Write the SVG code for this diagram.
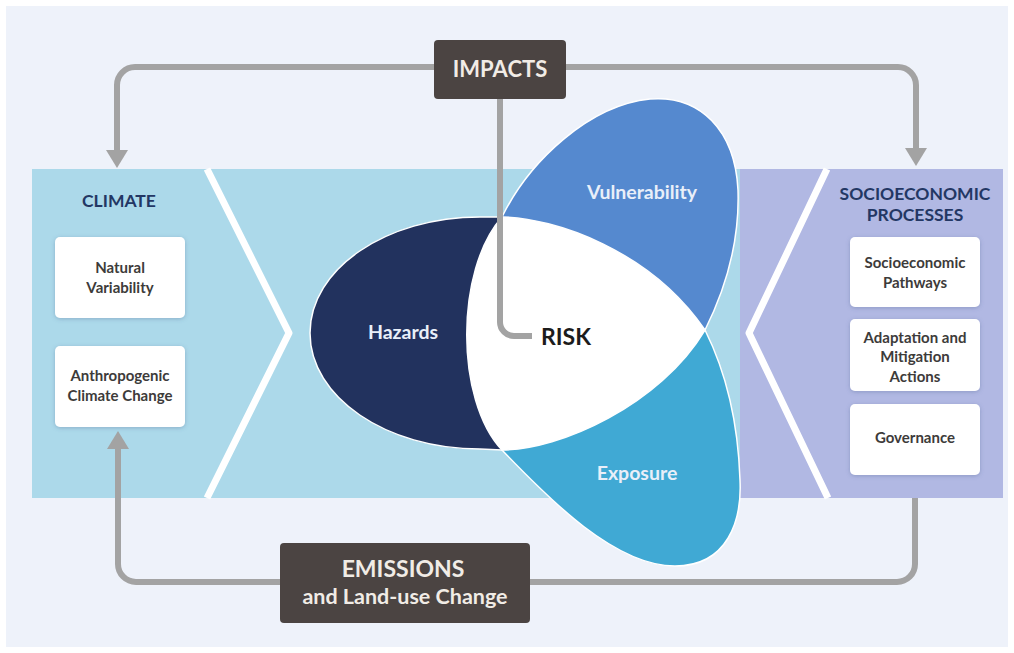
<svg xmlns="http://www.w3.org/2000/svg" width="1014" height="653" viewBox="0 0 1014 653">
<style>
.t{font-family:Lato,"Open Sans","Liberation Sans",sans-serif;font-weight:700;text-anchor:middle}
.box{fill:#ffffff;filter:url(#sh)}
.boxtxt{font-size:15px;fill:#3d3b3a}
.head{font-size:17.5px;fill:#233764}
.dark{fill:#4b4442}
.darktxt{fill:#f1ece6}
.petaltxt{font-size:19.5px;fill:#e9eff9}
.conn{fill:none;stroke:#a3a3a3;stroke-width:6}
.chev{fill:none;stroke:#ffffff;stroke-width:7;stroke-linejoin:round}
.petal{stroke:#ffffff;stroke-width:1.5}
</style>
<defs>
<filter id="sh" x="-20%" y="-20%" width="140%" height="140%">
<feDropShadow dx="0" dy="1" stdDeviation="2" flood-color="#4a5f8a" flood-opacity="0.35"/>
</filter>
<marker id="arr" markerUnits="userSpaceOnUse" markerWidth="18" markerHeight="22" refX="0" refY="11" orient="auto" viewBox="0 0 18 22">
<path d="M0,0 L18,11 L0,22 Z" fill="#a3a3a3"/>
</marker>
</defs>
<rect x="0" y="0" width="1014" height="653" fill="#ffffff"/>
<rect x="6" y="6" width="1002" height="641" fill="#eef2fa"/>
<g id="bands">
<rect x="32" y="169" width="708" height="329" fill="#acd9ea"/>
<rect x="740" y="169" width="263" height="329" fill="#b1b8e3"/>
<polyline class="chev" points="207,169 289,333 207,498"/>
<polyline class="chev" points="827,169 749,333 828,498"/>
</g>
<g id="hazards">
<path class="petal" fill="#22325e" d="M502,217 L480,217 C386,217 310,269 310,333 C310,397 386,449 480,449 L502,450 Z"/>
<text class="t petaltxt" x="403" y="339">Hazards</text>
</g>
<g id="vulnerability">
<path class="petal" fill="#5589cf" d="M502,217 C530,160 590,105 650,99 C700,95 735,130 738,190 C740,250 720,300 705,330 Z"/>
<text class="t petaltxt" x="642" y="199">Vulnerability</text>
</g>
<g id="exposure">
<path class="petal" fill="#40a9d4" d="M502,450 C550,500 615,566 675,566 C728,566 742,520 740,480 C738,420 725,370 705,330 Z"/>
<text class="t petaltxt" x="637" y="480">Exposure</text>
</g>
<g id="risk">
<path class="petal" fill="#ffffff" d="M502,217 C555,218 650,250 705,330 C660,405 560,450 502,450 C455,400 455,270 502,217 Z"/>
</g>
<g id="connectors">
<path class="conn" d="M434,67 H135 A18 18 0 0 0 117,85 V150" marker-end="url(#arr)"/>
<path class="conn" d="M566,67 H898 A18 18 0 0 1 916,85 V148" marker-end="url(#arr)"/>
<path class="conn" d="M280,582 H136 A18 18 0 0 1 118,564 V449" marker-end="url(#arr)"/>
<path class="conn" d="M530,582 H897 A18 18 0 0 0 915,564 V498"/>
<path class="conn" d="M500,99 V322 A14 14 0 0 0 514,336 H532"/>
</g>
<g id="risk-label">
<text class="t" x="566" y="345" font-size="23" fill="#1c1c1c">RISK</text>
</g>
<g id="impacts">
<rect class="dark" x="434" y="40" width="132" height="59" rx="4"/>
<text class="t darktxt" x="500" y="77" font-size="22">IMPACTS</text>
</g>
<g id="emissions">
<rect class="dark" x="280" y="543" width="250" height="80" rx="4"/>
<text class="t darktxt" x="403" y="577" font-size="23">EMISSIONS</text>
<text class="t darktxt" x="405" y="604" font-size="21.5">and Land-use Change</text>
</g>
<g id="climate">
<text class="t head" x="119" y="207">CLIMATE</text>
</g>
<g id="natural-variability">
<rect class="box" x="55" y="237" width="130" height="81" rx="5"/>
<text class="t boxtxt" x="120" y="273">Natural</text>
<text class="t boxtxt" x="120" y="293">Variability</text>
</g>
<g id="anthropogenic">
<rect class="box" x="55" y="346" width="130" height="81" rx="5"/>
<text class="t boxtxt" x="120" y="381">Anthropogenic</text>
<text class="t boxtxt" x="120" y="401">Climate Change</text>
</g>
<g id="socioeconomic-processes">
<text class="t head" x="915" y="200">SOCIOECONOMIC</text>
<text class="t head" x="915" y="221">PROCESSES</text>
</g>
<g id="pathways">
<rect class="box" x="850" y="237" width="130" height="70" rx="5"/>
<text class="t boxtxt" x="915" y="268">Socioeconomic</text>
<text class="t boxtxt" x="915" y="288">Pathways</text>
</g>
<g id="adaptation">
<rect class="box" x="850" y="319" width="130" height="72" rx="5"/>
<text class="t boxtxt" x="915" y="343">Adaptation and</text>
<text class="t boxtxt" x="915" y="362">Mitigation</text>
<text class="t boxtxt" x="915" y="382">Actions</text>
</g>
<g id="governance">
<rect class="box" x="850" y="404" width="130" height="71" rx="5"/>
<text class="t boxtxt" x="915" y="443">Governance</text>
</g>
</svg>
